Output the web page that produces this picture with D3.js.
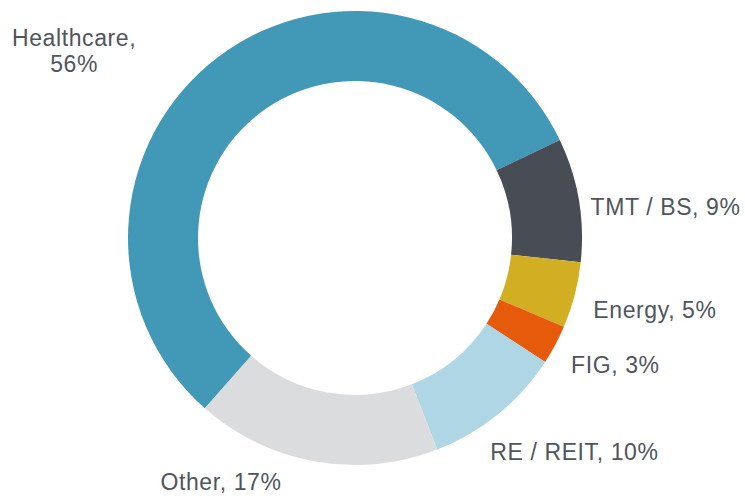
<!DOCTYPE html>
<html><head><meta charset="utf-8">
<script src="https://cdn.jsdelivr.net/npm/d3@7"></script>
<style>
html,body{margin:0;padding:0;background:#fff;}
svg text{font-family:"Liberation Sans",Arial,Helvetica,sans-serif;}
</style>
</head><body>
<svg id="chart" width="745" height="496"></svg>
<script>
const categories = ["Healthcare", "TMT / BS", "Energy", "FIG", "RE / REIT", "Other"];
const shares = [56.4, 8.8, 4.7, 2.8, 9.9, 17.4];
const colors = ["#4298b7", "#484d55", "#d2ae22", "#e65a0b", "#aed6e4", "#dbdcdd"];

const W = 745, H = 496;
const cx = 355, cy = 238, outerR = 227, innerR = 157;
const startDeg = 221.4;
// label layout: nudge from radial anchor, anchor type, split into two lines?
const labelLayout = [
  {dx: -138, dy: 0.5, anchor: "middle", twoLines: true},
  {dx: 2, dy: 9, anchor: "start"},
  {dx: 9, dy: 12, anchor: "start"},
  {dx: 7, dy: 15, anchor: "start"},
  {dx: -14, dy: 30, anchor: "start"},
  {dx: -32, dy: 11, anchor: "end"}
];

const svg = d3.select("#chart");
const g = svg.append("g").attr("transform", `translate(${cx},${cy})`);
const data = categories.map((c, i) => ({name: c, value: shares[i], color: colors[i]}));
const start = startDeg * Math.PI / 180;
const pie = d3.pie().sort(null).value(d => d.value).startAngle(start).endAngle(start + 2 * Math.PI);
const arc = d3.arc().innerRadius(innerR).outerRadius(outerR);
const arcs = pie(data);

g.selectAll("path").data(arcs).join("path")
  .attr("d", arc).attr("fill", d => d.data.color);

const fmt = v => Math.round(v) + "%";
arcs.forEach((a, i) => {
  const mid = (a.startAngle + a.endAngle) / 2;
  const r = outerR + 10;
  const L = labelLayout[i];
  const x = r * Math.sin(mid) + L.dx;
  const y = -r * Math.cos(mid) + L.dy;
  const t = g.append("text")
    .attr("x", x).attr("y", y)
    .attr("text-anchor", L.anchor)
    .attr("fill", "#50555c")
    .attr("font-size", "23px")
    .attr("letter-spacing", "0.6px");
  if (L.twoLines) {
    t.append("tspan").attr("x", x).attr("dy", "-0.15em").text(a.data.name + ",");
    t.append("tspan").attr("x", x).attr("dy", "1.13em").text(fmt(a.data.value));
  } else {
    t.attr("dy", "0.35em").text(a.data.name + ", " + fmt(a.data.value));
  }
});
</script>
</body></html>
